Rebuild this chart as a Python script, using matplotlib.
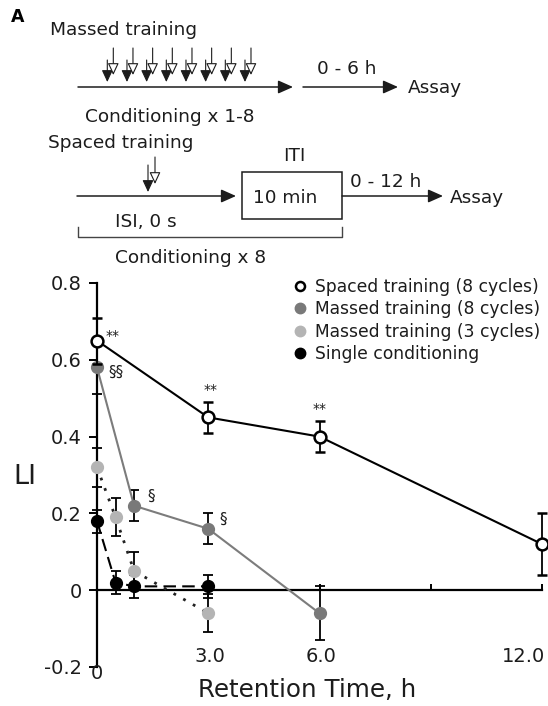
import matplotlib
matplotlib.use("Agg")
import matplotlib.pyplot as plt
from matplotlib.lines import Line2D
from matplotlib.patches import FancyArrowPatch, Rectangle

plt.rcParams['font.family'] = ['DejaVu Sans']

# ---------------- data ----------------
times_spaced = [0, 3, 6, 12]
li_spaced = [0.65, 0.45, 0.40, 0.12]
err_spaced = [0.06, 0.04, 0.04, 0.08]

times_massed8 = [0, 1, 3, 6]
li_massed8 = [0.58, 0.22, 0.16, -0.06]
err_massed8 = [0.07, 0.04, 0.04, 0.07]

times_massed3 = [0, 0.5, 1, 3]
li_massed3 = [0.32, 0.19, 0.05, -0.06]
err_massed3 = [0.05, 0.05, 0.05, 0.05]

times_single = [0, 0.5, 1, 3]
li_single = [0.18, 0.02, 0.01, 0.01]
err_single = [0.03, 0.03, 0.03, 0.03]

legend_labels = ["Spaced training (8 cycles)", "Massed training (8 cycles)",
                 "Massed training (3 cycles)", "Single conditioning"]
ytick_vals = [-0.2, 0, 0.2, 0.4, 0.6, 0.8]
ytick_labels = ["-0.2", "0", "0.2", "0.4", "0.6", "0.8"]
xtick_vals = [0, 3, 6, 9, 12]
xtick_labels = ["0", "3.0", "6.0", "", "12.0"]

W, H = 548, 706
fig = plt.figure(figsize=(W / 100, H / 100), dpi=100)

# ---------------- schematic (pixel coordinates) ----------------
dg = fig.add_axes([0, 0, 1, 1])
dg.set_xlim(0, W)
dg.set_ylim(H, 0)
dg.axis("off")
dg.patch.set_alpha(0)

tc = "#1c1c1c"
fs_d = 13.3


def harrow(x0, x1, y):
    a = FancyArrowPatch((x0, y), (x1, y), arrowstyle="-|>,head_length=0.45,head_width=0.2",
                        mutation_scale=20, lw=1.1, color=tc, shrinkA=0, shrinkB=0)
    dg.add_patch(a)


def varrow(x, y0, y1, open_head=False):
    a = FancyArrowPatch((x, y0), (x, y1), arrowstyle="-|>,head_length=0.6,head_width=0.28",
                        mutation_scale=12, lw=0.8, shrinkA=0, shrinkB=0,
                        ec=tc, fc=("white" if open_head else tc))
    dg.add_patch(a)


dg.text(18, 22, "A", fontsize=12.5, fontweight="bold", ha="center", va="baseline", color="black")
dg.text(50, 35, "Massed training", fontsize=fs_d, ha="left", va="baseline", color=tc)
for i in range(8):
    xb = 107.3 + i * 19.67
    varrow(xb, 60, 82)
    varrow(xb + 6, 48, 75, open_head=True)
harrow(78, 293, 87)
harrow(303, 398, 87)
dg.text(317, 74, "0 - 6 h", fontsize=fs_d, ha="left", va="baseline", color=tc)
dg.text(408, 93, "Assay", fontsize=fs_d, ha="left", va="baseline", color=tc)
dg.text(85, 122, "Conditioning x 1-8", fontsize=fs_d, ha="left", va="baseline", color=tc)

dg.text(48, 148, "Spaced training", fontsize=fs_d, ha="left", va="baseline", color=tc)
varrow(148, 165, 192)
varrow(155, 157, 184, open_head=True)
harrow(77, 236, 196)
dg.add_patch(Rectangle((242, 172), 100, 47, fill=False, lw=1.1, ec=tc))
dg.text(294, 161, "ITI", fontsize=fs_d, ha="center", va="baseline", color=tc)
dg.text(285, 203, "10 min", fontsize=fs_d, ha="center", va="baseline", color=tc)
harrow(342, 443, 196)
dg.text(350, 187, "0 - 12 h", fontsize=fs_d, ha="left", va="baseline", color=tc)
dg.text(450, 203, "Assay", fontsize=fs_d, ha="left", va="baseline", color=tc)
dg.text(115, 227, "ISI, 0 s", fontsize=fs_d, ha="left", va="baseline", color=tc)
dg.plot([78, 78, 342, 342], [227, 237, 237, 227], color="#444444", lw=1.0)
dg.text(115, 263, "Conditioning x 8", fontsize=fs_d, ha="left", va="baseline", color=tc)

# ---------------- main chart ----------------
ax = fig.add_axes([97 / W, (H - 667) / H, 445 / W, 384 / H])
ax.patch.set_alpha(0)
ax.set_xlim(0, 12)
ax.set_ylim(-0.2, 0.8)

ax.spines["top"].set_visible(False)
ax.spines["right"].set_visible(False)
ax.spines["bottom"].set_position(("data", 0))
ax.spines["left"].set_linewidth(1.6)
ax.spines["bottom"].set_linewidth(1.6)

ax.set_yticks(ytick_vals)
ax.set_yticklabels(ytick_labels, fontsize=14, color=tc)
ax.tick_params(axis="y", direction="out", length=6, width=1.4, pad=5)
ax.set_xticks(xtick_vals)
ax.set_xticklabels([])
ax.tick_params(axis="x", direction="in", length=4, width=1.4)
lab_off = {0: (0, -83), 3: (1.5, -66), 6: (2, -66), 12: (-19, -66)}
for xv, lab in zip(xtick_vals, xtick_labels):
    if not lab:
        continue
    ax.annotate(lab, (xv, 0), xytext=lab_off[xv], textcoords="offset pixels", fontsize=14,
                ha="center", va="center", color=tc, annotation_clip=False)

eb_kw = dict(ecolor="black", elinewidth=1.3, capsize=3.5, capthick=1.3, clip_on=False)

ax.errorbar(times_single, li_single, yerr=err_single, color="black", ls=(0, (6, 3)), lw=1.5,
            marker="o", ms=8.5, mfc="black", mec="black", zorder=3, **eb_kw)
ax.errorbar(times_massed3, li_massed3, yerr=err_massed3, color="#222222", ls=(0, (1, 3)), lw=2.0,
            marker="o", ms=8.5, mfc="#b4b4b4", mec="#b4b4b4", zorder=4, **eb_kw)
ax.errorbar(times_massed8, li_massed8, yerr=err_massed8, color="#7c7c7c", ls="-", lw=1.5,
            marker="o", ms=8.5, mfc="#797979", mec="#797979", zorder=5, **eb_kw)
ax.errorbar(times_spaced, li_spaced, yerr=err_spaced, color="black", ls="-", lw=1.5,
            marker="o", ms=8.5, mfc="white", mec="black", mew=1.8, zorder=6, **eb_kw)

# significance marks
ann = dict(textcoords="offset points", ha="center", va="center", color=tc, annotation_clip=False)
ax.annotate("**", (times_spaced[0], li_spaced[0]), xytext=(11.5, 3), fontsize=10, **ann)
ax.annotate("**", (times_spaced[1], li_spaced[1]), xytext=(1.5, 19.5), fontsize=10, **ann)
ax.annotate("**", (times_spaced[2], li_spaced[2]), xytext=(0, 20), fontsize=10, **ann)
ax.annotate("§§", (times_massed8[0], li_massed8[0]), xytext=(14, -3.6), fontsize=11, **ann)
ax.annotate("§", (times_massed8[1], li_massed8[1]), xytext=(12, 7), fontsize=11, **ann)
ax.annotate("§", (times_massed8[2], li_massed8[2]), xytext=(11, 7), fontsize=11, **ann)

fig.text(25 / W, 1 - 477 / H, "LI", fontsize=19.5, ha="center", va="center", color=tc)
fig.text(307 / W, 1 - 690 / H, "Retention Time, h", fontsize=17.7, ha="center", va="center", color=tc)

handles = [
    Line2D([], [], ls="none", marker="o", ms=6.5, mfc="white", mec="black", mew=1.8),
    Line2D([], [], ls="none", marker="o", ms=7.5, mfc="#797979", mec="#797979"),
    Line2D([], [], ls="none", marker="o", ms=7.5, mfc="#b4b4b4", mec="#b4b4b4"),
    Line2D([], [], ls="none", marker="o", ms=7.5, mfc="black", mec="black"),
]
leg = fig.legend(handles, legend_labels, loc="upper left", bbox_to_anchor=(293 / W, 1 - 278 / H),
                 frameon=False, fontsize=12.3, handlelength=0.8, handletextpad=0.48,
                 labelspacing=0.26, borderpad=0, borderaxespad=0)
for t in leg.get_texts():
    t.set_color(tc)

fig.savefig("out.png", dpi=100)
